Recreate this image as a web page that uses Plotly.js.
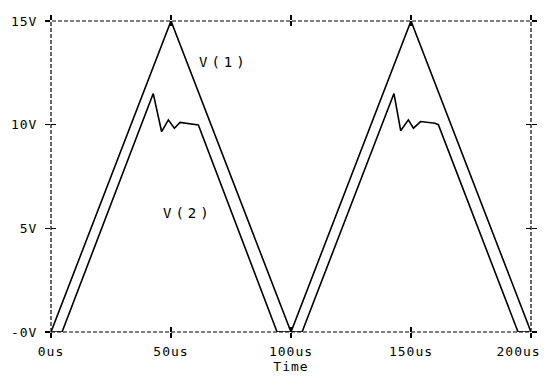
<!DOCTYPE html>
<html>
<head>
<meta charset="utf-8">
<script src="https://cdn.plot.ly/plotly-3.0.1.min.js"></script>
<style>
html,body{margin:0;padding:0;background:#fff;}
#chart{width:545px;height:379px;}
.xtick text,.ytick text,.g-xtitle text{letter-spacing:1px;}
.annotation-text{letter-spacing:4px;}
.annotation[data-index="2"] .annotation-text{letter-spacing:1px;}
</style>
</head>
<body>
<div id="chart"></div>
<script>
// Time in microseconds, voltages in volts
const v1Time = [0, 50, 100, 150, 200];
const v1Volt = [0, 15, 0, 15, 0];

const v2Time = [0, 4.6, 42.6, 46.1, 48.9, 51.4, 53.75, 56.5, 59.3, 61.4, 94.2,
                104.6, 142.9, 145.7, 148.9, 151.0, 154.0, 157.9, 160.0, 161.4, 194.6, 200];
const v2Volt = [0, 0, 11.5, 9.66, 10.23, 9.83, 10.11, 10.06, 10.03, 9.99, 0,
                0, 11.5, 9.71, 10.23, 9.83, 10.15, 10.1, 10.07, 10.0, 0, 0];

const xTickVals = [0, 50, 100, 150, 200];
const xTickText = ['0us', '50us', '100us', '150us', ''];
const lastTickText = '200us';
const yTickVals = [0, 5, 10, 15];
const yTickText = ['-0V', '5V', '10V', '15V'];

const labelNames = ['V(1)', 'V(2)'];
const labelX = [72, 57];
const labelY = [13.0, 5.75];

const font = {family: 'DejaVu Sans Mono, Liberation Mono, monospace', size: 13, color: '#000'};

const traces = [
  {x: v1Time, y: v1Volt, type: 'scatter', mode: 'lines', line: {color: '#000', width: 1.6}, name: labelNames[0], cliponaxis: false},
  {x: v2Time, y: v2Volt, type: 'scatter', mode: 'lines', line: {color: '#000', width: 1.6}, name: labelNames[1], cliponaxis: false},
  {x: [null], y: [null], xaxis: 'x2', yaxis: 'y2', type: 'scatter', mode: 'lines', showlegend: false}
];

const axisCommon = {showgrid: false, zeroline: false, showline: false, mirror: 'ticks', ticklen: 5, tickwidth: 1.3, tickcolor: '#000', tickfont: font};

const annotations = labelNames.map((t, i) => ({x: labelX[i], y: labelY[i], xref: 'x', yref: 'y', text: t, showarrow: false,
    font: {family: font.family, size: 14, color: '#000'}}));
annotations.push({x: xTickVals[4], y: 0, xref: 'x', yref: 'paper', text: lastTickText, showarrow: false,
    xanchor: 'right', yanchor: 'top', xshift: 19, yshift: -10, font: font});

const layout = {
  width: 545, height: 379,
  margin: {l: 51, r: 14, t: 21, b: 47},
  paper_bgcolor: '#fff', plot_bgcolor: '#fff',
  showlegend: false,
  font: font,
  xaxis: Object.assign({}, axisCommon, {range: [0, 200], tickmode: 'array', tickvals: xTickVals, ticktext: xTickText, ticks: 'outside',
    ticklabelstandoff: 2,
    title: {text: 'Time', font: font, standoff: 4}}),
  yaxis: Object.assign({}, axisCommon, {range: [0, 15], tickmode: 'array', tickvals: yTickVals, ticktext: yTickText, ticks: 'outside',
    ticklabelstandoff: 5}),
  xaxis2: Object.assign({}, axisCommon, {overlaying: 'x', range: [0, 200], tickmode: 'array', tickvals: xTickVals, ticks: 'inside', showticklabels: false, side: 'bottom'}),
  yaxis2: Object.assign({}, axisCommon, {overlaying: 'y', range: [0, 15], tickmode: 'array', tickvals: yTickVals, ticks: 'inside', showticklabels: false, side: 'left'}),
  shapes: [
    {type: 'rect', xref: 'paper', yref: 'paper', x0: 0, x1: 1, y0: 0, y1: 1, line: {color: '#000', width: 1.2, dash: '4px,2px'}, layer: 'below'}
  ],
  annotations: annotations
};

Plotly.newPlot('chart', traces, layout, {displayModeBar: false, staticPlot: true});
</script>
</body>
</html>
